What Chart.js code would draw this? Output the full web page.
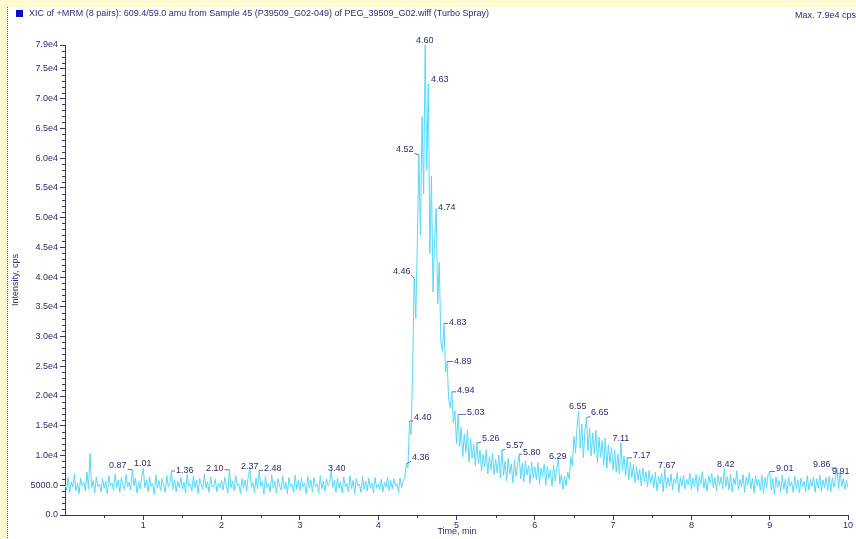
<!DOCTYPE html>
<html>
<head>
<meta charset="utf-8">
<script src="https://cdn.jsdelivr.net/npm/chart.js@4.4.1/dist/chart.umd.min.js"></script>
<style>
  html, body { margin: 0; padding: 0; background: #ffffff; }
  canvas { display: block; }
</style>
</head>
<body>
<canvas id="xic" width="856" height="539"></canvas>
<script>
// XIC trace, one scan every 0.02 min; one block of 50 scans per minute.
const scanStep = 0.02;
const scanMin0 = [5100, 4200, 6300, 3800, 5600, 4700, 6900, 4100, 5300, 3600, 6200, 4900, 5500, 4000, 7200, 4400, 10300, 4600, 5800, 3700, 6400, 4800, 5200, 3900, 6100,
                  4500, 5700, 3600, 6600, 4900, 5400, 4100, 6900, 4600, 5900, 3800, 6300, 5000, 4300, 6800, 4700, 5500, 4200, 7600, 4900, 6200, 3700, 5600, 4400, 6500];
const scanMin1 = [7800, 4600, 5900, 3900, 6400, 4800, 5300, 3500, 6700, 4500, 5800, 4100, 6100, 5000, 3800, 6600, 4700, 5400, 7400, 4300, 6000, 3900, 5700, 4600, 6300,
                  4400, 5500, 3700, 6800, 4900, 5200, 4000, 6500, 4600, 5900, 3600, 6200, 5100, 4300, 6900, 4500, 5600, 3800, 6400, 4700, 4800, 6000, 3900, 5400, 4600];
const scanMin2 = [5800, 4200, 6300, 5000, 3700, 7600, 4600, 5700, 4100, 6600, 4900, 5300, 3600, 6100, 4500, 5900, 4000, 6400, 7900, 4700, 5500, 3800, 6200, 4400, 7500,
                  4800, 5600, 3500, 6500, 4600, 5300, 3900, 6800, 4500, 5700, 3700, 6100, 4900, 4200, 6600, 4400, 5500, 3600, 6300, 4800, 5100, 3800, 6700, 4300, 5800];
const scanMin3 = [4100, 6200, 4700, 5400, 3600, 6500, 4500, 5900, 3900, 6300, 4800, 5200, 3700, 6600, 4400, 5700, 4000, 6100, 4900, 5400, 7500, 4600, 5800, 3800, 6200,
                  4500, 5600, 3700, 6400, 4700, 5300, 3900, 6600, 4400, 5800, 3600, 6100, 4900, 5200, 3800, 6500, 4300, 5700, 4000, 6200, 4600, 5400, 3700, 6300, 4500];
const scanMin4 = [5200, 4300, 6000, 3900, 5500, 4700, 6300, 4100, 5800, 4400, 6100, 4800, 5300, 3800, 6200, 4600, 5700, 6400, 8600, 7900, 15800, 13500, 24500, 39800, 33000,
                  46000, 60500, 47000, 67000, 54000, 79000, 58000, 72500, 44000, 57000, 37500, 46000, 51500, 35500, 42500, 29000, 27500, 32200, 24000, 25800, 19500, 18000, 20700, 15500, 17500];
const scanMin5 = [12000, 16900, 11500, 14800, 9800, 13600, 10500, 14200, 8900, 12800, 9600, 11900, 8300, 12100, 8700, 10900, 7400, 10200, 8100, 11000, 6900, 9800, 7600, 10400, 6800,
                  9300, 7100, 10100, 6300, 10900, 6600, 9000, 5700, 9500, 6900, 8600, 5400, 9200, 6500, 8400, 10200, 6100, 8700, 5600, 9100, 6700, 8300, 5300, 8900, 6200];
const scanMin6 = [8100, 5900, 8800, 5200, 7900, 6400, 8500, 5000, 8200, 6100, 7600, 4800, 8400, 5700, 7800, 9300, 5200, 6800, 4300, 6500, 4900, 7200, 6000, 9800, 8200,
                  13200, 10400, 14900, 17400, 11200, 15300, 9600, 14100, 16300, 10800, 14600, 9900, 13800, 10300, 14200, 8800, 13100, 9700, 12500, 8400, 12900, 7900, 11800, 8700, 11300];
const scanMin7 = [7600, 10900, 7200, 10300, 6900, 12200, 7400, 9900, 6600, 9600, 5900, 8800, 6300, 8500, 5400, 8100, 5800, 7700, 4900, 7900, 5600, 7300, 4700, 7500, 5300,
                  6800, 4600, 7200, 4100, 6500, 5200, 7000, 3900, 7700, 4500, 6300, 4800, 6900, 4200, 6100, 5300, 7100, 3800, 6400, 4900, 6700, 4400, 6000, 5100, 7000];
const scanMin8 = [4300, 6200, 4700, 6800, 3900, 6500, 5200, 7300, 4500, 6100, 4000, 6600, 5400, 7000, 4600, 6300, 4100, 6700, 5000, 6400, 4400, 7800, 4800, 6500, 4200,
                  6900, 3900, 6200, 5100, 7400, 4300, 6000, 4700, 6800, 3800, 6400, 5000, 7100, 4400, 6200, 3700, 6600, 4900, 6000, 4100, 6700, 3600, 6300, 4500, 6900];
const scanMin9 = [7300, 4200, 6100, 3500, 6400, 4600, 5800, 3900, 6700, 4300, 6000, 3600, 6300, 4800, 5600, 3800, 6500, 4400, 5900, 3700, 6200, 4700, 5700, 3900, 6600,
                  4200, 6000, 4800, 6400, 3800, 6100, 4500, 6700, 4000, 5900, 4600, 6300, 4100, 6500, 3900, 6200, 4700, 6000, 7900, 4400, 7300, 4800, 6100, 4300, 5800];
const scanAt10 = 4600;

// Axis ticks
const xTickValues = [1, 2, 3, 4, 5, 6, 7, 8, 9, 10];
const xTickLabels = ['1', '2', '3', '4', '5', '6', '7', '8', '9', '10'];
const yTickValues = [0, 5000, 10000, 15000, 20000, 25000, 30000, 35000, 40000, 45000, 50000, 55000, 60000, 65000, 70000, 75000, 79000];
const yTickLabels = ['0.0', '5000.0', '1.0e4', '1.5e4', '2.0e4', '2.5e4', '3.0e4', '3.5e4', '4.0e4', '4.5e4', '5.0e4', '5.5e4', '6.0e4', '6.5e4', '7.0e4', '7.5e4', '7.9e4'];

// Peak annotations: apex (time, intensity) and where the text sits (time, intensity)
const peakNames   = ['0.87', '1.01', '1.36', '2.10', '2.37', '2.48', '3.40', '4.36', '4.40', '4.46', '4.52', '4.60', '4.63', '4.74', '4.83', '4.89',
                     '4.94', '5.03', '5.26', '5.57', '5.80', '6.29', '6.55', '6.65', '7.11', '7.17', '7.67', '8.42', '9.01', '9.86', '9.91'];
const peakTimes   = [0.86, 1.00, 1.36, 2.10, 2.36, 2.48, 3.40, 4.36, 4.40, 4.46, 4.52, 4.60, 4.64, 4.74, 4.84, 4.88,
                     4.94, 5.02, 5.26, 5.58, 5.80, 6.30, 6.56, 6.66, 7.10, 7.18, 7.66, 8.42, 9.00, 9.86, 9.90];
const peakHeights = [7600, 7800, 7400, 7600, 7900, 7500, 7500, 8600, 15800, 39800, 60500, 79000, 72500, 51500, 32200, 25800,
                     20700, 16900, 12100, 10900, 10200, 9300, 17400, 16300, 12200, 9600, 7700, 7800, 7300, 7900, 7300];
const labelTimes  = [0.674, 0.994, 1.530, 1.913, 2.360, 2.654, 3.472, 4.544, 4.569, 4.301, 4.339, 4.594, 4.786, 4.876, 5.017, 5.081,
                     5.119, 5.247, 5.438, 5.745, 5.962, 6.294, 6.549, 6.830, 7.099, 7.367, 7.686, 8.439, 9.193, 9.665, 9.908];
const labelLevels = [8350, 8690, 7510, 7850, 8190, 7850, 7850, 9700, 16420, 40960, 61460, 79780, 73230, 51710, 32390, 25830,
                     20960, 17260, 12890, 11710, 10540, 9870, 18270, 17260, 12890, 10030, 8350, 8520, 7850, 8520, 7350];

const titleText = 'XIC of +MRM (8 pairs): 609.4/59.0 amu from Sample 45 (P39509_G02-049) of PEG_39509_G02.wiff (Turbo Spray)';
const maxText = 'Max. 7.9e4 cps.';
const xTitle = 'Time, min';
const yTitle = 'Intensity, cps';

const ink = '#2d2b6e';
const axisInk = '#3a3560';
const traceInk = '#57d8f8';
const fontFamily = "'Liberation Sans', Arial, sans-serif";
const smallFont = { family: fontFamily, size: 9 };

const points = [];
[scanMin0, scanMin1, scanMin2, scanMin3, scanMin4, scanMin5, scanMin6, scanMin7, scanMin8, scanMin9].forEach((block, minute) => {
  block.forEach((v, k) => points.push({ x: minute + k * scanStep, y: v }));
});
points.push({ x: 10, y: scanAt10 });

const decor = {
  id: 'decor',
  beforeDraw(chart) {
    const ctx = chart.ctx;
    const W = chart.width, H = chart.height;
    ctx.save();
    ctx.fillStyle = '#ffffff';
    ctx.fillRect(0, 0, W, H);
    ctx.fillStyle = '#fefbd0';
    ctx.fillRect(0, 0, W, 7);
    ctx.fillRect(0, 0, 7, H);
    ctx.strokeStyle = '#56634e';
    ctx.lineWidth = 1;
    ctx.setLineDash([1, 1]);
    ctx.beginPath();
    ctx.moveTo(7.5, 7);
    ctx.lineTo(7.5, H);
    ctx.stroke();
    ctx.setLineDash([]);

    // trace colour key + title line
    ctx.fillStyle = '#0c0cc8';
    ctx.fillRect(16, 10, 7, 7);
    ctx.fillStyle = ink;
    ctx.font = '9px ' + fontFamily;
    ctx.textBaseline = 'middle';
    ctx.textAlign = 'left';
    ctx.fillText(titleText, 29, 14);
    ctx.fillText(maxText, 795, 16);
    ctx.restore();
  },
  afterDraw(chart) {
    const ctx = chart.ctx;
    const xs = chart.scales.x, ys = chart.scales.y;
    const area = chart.chartArea;
    ctx.save();

    // minor ticks
    ctx.strokeStyle = axisInk;
    ctx.lineWidth = 1;
    ctx.beginPath();
    for (let v = 1000; v < 79000; v += 1000) {
      if (v % 5000 === 0) continue;
      const py = Math.round(ys.getPixelForValue(v)) + 0.5;
      ctx.moveTo(area.left - 3, py);
      ctx.lineTo(area.left, py);
    }
    for (let t = 0.5; t < 10; t += 1) {
      const px = Math.round(xs.getPixelForValue(t)) + 0.5;
      ctx.moveTo(px, area.bottom);
      ctx.lineTo(px, area.bottom + 3);
    }
    ctx.stroke();

    // axis titles
    ctx.fillStyle = ink;
    ctx.font = '9px ' + fontFamily;
    ctx.textAlign = 'center';
    ctx.textBaseline = 'middle';
    ctx.fillText(xTitle, 457, 532);
    ctx.save();
    ctx.translate(16, 280);
    ctx.rotate(-Math.PI / 2);
    ctx.fillText(yTitle, 0, 0);
    ctx.restore();

    // peak labels with leaders
    peakNames.forEach((name, i) => {
      const tx = xs.getPixelForValue(labelTimes[i]);
      const ty = ys.getPixelForValue(labelLevels[i]);
      const px = xs.getPixelForValue(peakTimes[i]);
      const py = ys.getPixelForValue(peakHeights[i]);
      const w = ctx.measureText(name).width;
      const bx = Math.min(Math.max(px, tx - w / 2 - 1), tx + w / 2 + 1);
      const by = Math.min(Math.max(py, ty - 4), ty + 4);
      if (Math.hypot(px - bx, py - by) > 2.5) {
        ctx.strokeStyle = '#6a6aa8';
        ctx.beginPath();
        ctx.moveTo(bx, by);
        ctx.lineTo(px, py);
        ctx.stroke();
      }
      ctx.fillStyle = ink;
      ctx.fillText(name, tx, ty);
    });
    ctx.restore();
  }
};

new Chart(document.getElementById('xic'), {
  type: 'line',
  data: {
    datasets: [{
      data: points,
      borderColor: traceInk,
      borderWidth: 1,
      pointRadius: 0,
      tension: 0,
      fill: false
    }]
  },
  options: {
    responsive: false,
    animation: false,
    events: [],
    layout: { padding: { left: 0, right: 8, top: 45, bottom: 0 } },
    plugins: { legend: { display: false }, tooltip: { enabled: false }, title: { display: false } },
    scales: {
      x: {
        type: 'linear',
        min: 0,
        max: 10,
        afterBuildTicks: (s) => { s.ticks = xTickValues.map(v => ({ value: v })); },
        afterFit: (s) => { s.height = 24; },
        ticks: {
          callback: (v, i) => xTickLabels[i],
          font: smallFont,
          color: ink,
          padding: 0,
          maxRotation: 0,
          autoSkip: false
        },
        grid: { drawOnChartArea: false, tickLength: 5, color: axisInk },
        border: { color: axisInk, width: 1 }
      },
      y: {
        type: 'linear',
        min: 0,
        max: 79000,
        afterBuildTicks: (s) => { s.ticks = yTickValues.map(v => ({ value: v })); },
        afterFit: (s) => { s.width = 65; },
        ticks: {
          callback: (v, i) => yTickLabels[i],
          font: smallFont,
          color: ink,
          padding: 2,
          autoSkip: false
        },
        grid: { drawOnChartArea: false, tickLength: 5, color: axisInk },
        border: { color: axisInk, width: 1 }
      }
    }
  },
  plugins: [decor]
});
</script>
</body>
</html>
